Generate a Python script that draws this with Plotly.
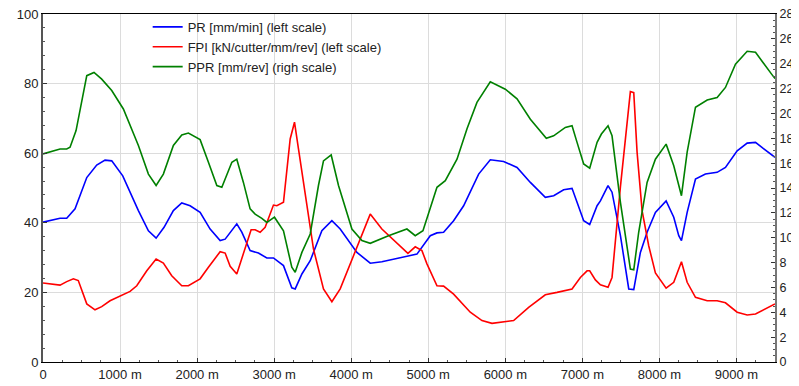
import plotly.graph_objects as go

# PR [mm/min] (left scale)
pr_x = [0, 221, 308, 416, 568, 697, 805, 892, 1035, 1238, 1368, 1468, 1571, 1692, 1801, 1909,
        2039, 2169, 2299, 2364, 2515, 2580, 2688, 2796, 2905, 2991, 3121, 3229, 3273, 3360,
        3468, 3619, 3749, 3857, 4074, 4247, 4398, 4766, 4853, 5026, 5113, 5199, 5329, 5459,
        5654, 5805, 5978, 6152, 6325, 6519, 6628, 6757, 6866, 6931, 7017, 7095, 7191, 7234,
        7333, 7385, 7494, 7602, 7667, 7753, 7840, 7948, 8087, 8186, 8251, 8286, 8360, 8468,
        8597, 8749, 8857, 9009, 9139, 9247, 9463, 9500]
pr_y = [40.2, 41.3, 41.3, 44, 53, 56.6, 58, 57.8, 53.5, 43.5, 37.7, 35.6, 38.7, 43.5, 45.7, 44.9,
        43, 38.2, 34.9, 35.3, 39.7, 37.3, 32, 31.3, 29.9, 29.9, 27.7, 21.3, 21, 25.3,
        29.1, 37.7, 40.6, 38.2, 31.5, 28.4, 28.8, 30.5, 31, 36.3, 37.1, 37.3, 40.6, 44.9,
        54, 58.1, 57.6, 55.9, 51.6, 47.3, 47.8, 49.5, 49.9, 45.9, 40.6, 39.5, 44.9, 46.3,
        50.7, 48.8, 36.3, 21, 20.8, 31.5, 37.3, 43, 46.3, 41.6, 36.3, 34.9, 43, 52.6,
        54, 54.5, 55.9, 60.7, 62.9, 63.1, 59.3, 58.8]

# FPI [kN/cutter/mm/rev] (left scale)
fpi_x = [0, 221, 308, 394, 458, 568, 675, 762, 870, 1000, 1130, 1217, 1347, 1468, 1562, 1671,
         1801, 1887, 2039, 2147, 2299, 2364, 2429, 2515, 2580, 2701, 2753, 2818, 2883, 2991,
         3035, 3121, 3208, 3264, 3316, 3403, 3510, 3640, 3749, 3857, 4052, 4247, 4398, 4736,
         4831, 4918, 4983, 5113, 5199, 5329, 5545, 5697, 5827, 5978, 6108, 6303, 6519, 6671,
         6866, 6974, 7061, 7095, 7169, 7234, 7333, 7385, 7494, 7623, 7667, 7710, 7775, 7861,
         7948, 8087, 8186, 8286, 8360, 8468, 8620, 8749, 8857, 9009, 9139, 9247, 9463, 9500]
fpi_y = [22.7, 22.1, 23.1, 23.9, 23.4, 16.7, 15, 15.9, 17.6, 18.9, 20.3, 21.9, 26.2, 29.6, 28.4, 24.8,
         21.9, 21.9, 23.9, 27.2, 31.7, 31.3, 27.5, 25.3, 29.6, 38, 38, 37.3, 38.7, 45.1,
         44.9, 45.9, 64.1, 68.9, 61.2, 48.8, 32.5, 21, 17.3, 21, 31.5, 42.5, 38.2, 31.2,
         33.1, 32, 28.2, 21.9, 21.8, 19.5, 14.3, 11.9, 11.1, 11.6, 11.9, 15.7, 19.3, 20,
         21, 24.3, 26.2, 26.2, 23.6, 22.2, 21.5, 24.3, 50.4, 77.7, 77.4, 60.3, 43.5, 33.4,
         25.6, 21.2, 22.9, 28.8, 22.9, 18.6, 17.6, 17.6, 17, 14.3, 13.5, 13.8, 16.4, 16.7]

# PPR [mm/rev] (right scale)
ppr_x = [0, 221, 308, 351, 429, 503, 568, 662, 762, 892, 1043, 1238, 1368, 1468, 1562, 1692,
         1801, 1887, 2039, 2147, 2256, 2321, 2451, 2515, 2601, 2688, 2753, 2840, 2905, 3004,
         3121, 3229, 3273, 3360, 3468, 3575, 3640, 3740, 3835, 4009, 4139, 4247, 4484, 4723,
         4831, 4931, 5026, 5113, 5221, 5373, 5503, 5632, 5805, 6000, 6152, 6325, 6532, 6627,
         6779, 6866, 6931, 7017, 7095, 7191, 7247, 7333, 7385, 7494, 7623, 7667, 7731, 7840,
         7948, 8087, 8186, 8286, 8360, 8468, 8620, 8749, 8857, 8987, 9139, 9247, 9463, 9500]
ppr_y = [16.74, 17.14, 17.14, 17.28, 18.62, 20.89, 23.04, 23.3, 22.76, 21.84, 20.36, 17.42, 15.12, 14.2, 15.12, 17.42,
         18.26, 18.42, 17.89, 16.07, 14.2, 14.06, 16.07, 16.32, 14.45, 12.32, 11.9, 11.56, 11.23, 11.65,
         10.56, 7.62, 7.22, 8.82, 10.3, 14.2, 16.18, 16.66, 14.2, 10.7, 9.77, 9.55, 10.16, 10.7,
         10.16, 10.56, 12.32, 14.06, 14.59, 16.32, 18.76, 20.89, 22.54, 21.95, 21.17, 19.54, 18.0, 18.2,
         18.87, 19.01, 17.67, 15.93, 15.6, 17.67, 18.34, 19.01, 18.2, 12.85, 7.48, 7.42, 10.44, 14.45,
         16.32, 17.53, 15.79, 13.38, 16.88, 20.5, 21.08, 21.28, 22.09, 23.97, 25.0, 24.92, 23.1, 22.8]

x_tickvals = [0, 1000, 2000, 3000, 4000, 5000, 6000, 7000, 8000, 9000]
x_ticktext = ["0"] + [f"{v} m" for v in x_tickvals[1:]]
left_ticks = [0, 20, 40, 60, 80, 100]
right_ticks = list(range(0, 29, 2))

FONT = "Liberation Sans, Arial, sans-serif"

fig = go.Figure()
fig.add_trace(go.Scatter(x=pr_x, y=pr_y, mode="lines", name="PR [mm/min] (left scale)",
                         line=dict(color="#0000FF", width=1.6)))
fig.add_trace(go.Scatter(x=fpi_x, y=fpi_y, mode="lines", name="FPI [kN/cutter/mm/rev] (left scale)",
                         line=dict(color="#FF0000", width=1.6)))
fig.add_trace(go.Scatter(x=ppr_x, y=ppr_y, mode="lines", name="PPR [mm/rev] (righ scale)",
                         line=dict(color="#008000", width=1.6), yaxis="y2"))

fig.update_layout(
    width=791, height=378,
    margin=dict(l=35, r=24, t=6, b=24, autoexpand=False),
    paper_bgcolor="white", plot_bgcolor="white",
    font=dict(family=FONT, size=13, color="#222"),
    showlegend=True,
    legend=dict(x=0.143, y=1.006, xanchor="left", yanchor="top", bgcolor="rgba(0,0,0,0)",
                font=dict(size=13, color="#222"), tracegroupgap=0, itemwidth=30),
    xaxis=dict(range=[0, 9500], tickvals=x_tickvals, ticktext=x_ticktext, automargin=False,
               ticklabeloverflow="allow",
               showgrid=True, gridcolor="#DCDCDC", gridwidth=1,
               showline=True, linecolor="black", linewidth=1, mirror=True,
               ticks="inside", ticklen=4, tickcolor="#333",
               minor=dict(dtick=250, tick0=0, ticks="inside", ticklen=2, tickcolor="#555", showgrid=False),
               zeroline=False, tickfont=dict(size=13)),
    yaxis=dict(range=[0, 100], tickvals=left_ticks, automargin=False, ticklabeloverflow="allow",
               showgrid=True, gridcolor="#DCDCDC", gridwidth=1,
               showline=True, linecolor="#555", linewidth=2,
               ticks="inside", ticklen=4, tickcolor="#333",
               minor=dict(dtick=4, tick0=0, ticks="inside", ticklen=2, tickcolor="#555", showgrid=False),
               zeroline=False, tickfont=dict(size=13)),
    yaxis2=dict(range=[0, 28], tickvals=right_ticks, overlaying="y", side="right", automargin=False,
                ticklabeloverflow="allow",
                showgrid=False, showline=True, linecolor="#777", linewidth=2,
                ticks="inside", ticklen=4, tickcolor="#333",
                minor=dict(dtick=0.5, tick0=0, ticks="inside", ticklen=2, tickcolor="#555"),
                zeroline=False, tickfont=dict(size=12.5)),
)

fig.write_html("out.html")
